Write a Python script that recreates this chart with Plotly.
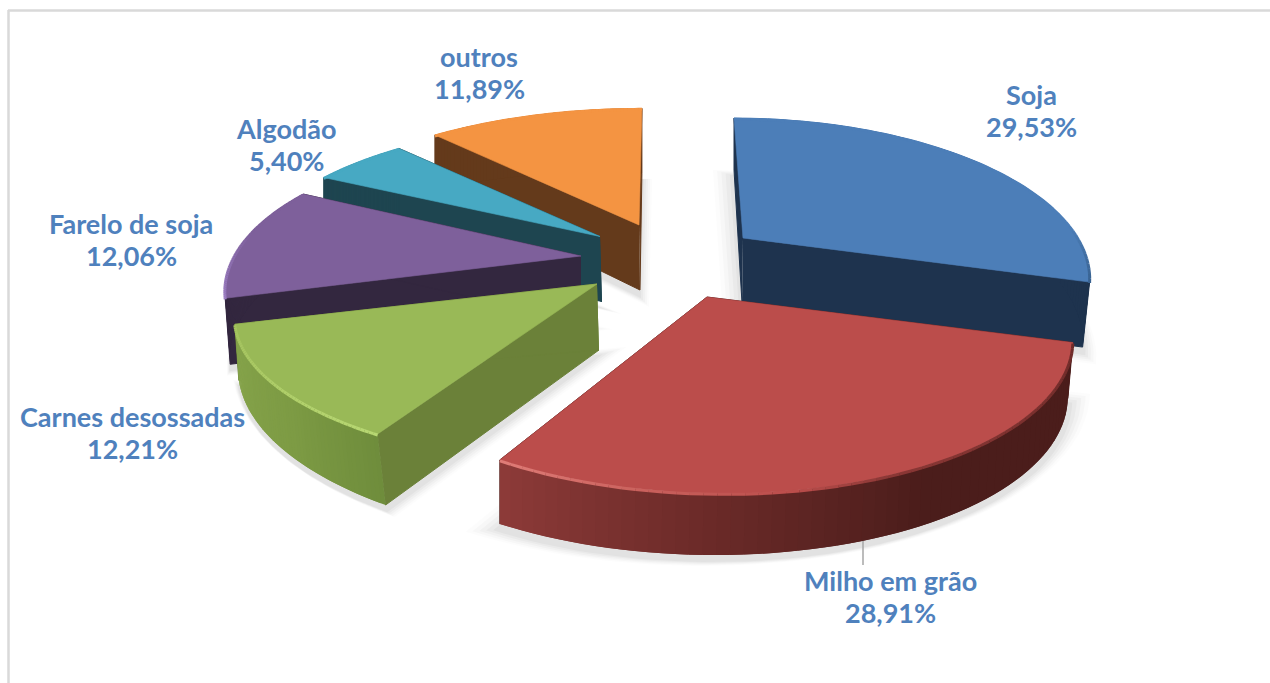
import numpy as np
import plotly.graph_objects as go

# ---- data ----
categories = ["Soja", "Milho em grão", "Carnes desossadas", "Farelo de soja", "Algodão", "outros"]
values = [29.53, 28.91, 12.21, 12.06, 5.40, 11.89]

# ---- colours ----
top_colors = ["#4c7eb8", "#bb4d4b", "#99b957", "#7e609b", "#47a9c3", "#f49442"]
wall_colors = ["#1e334e", "#4b1d1b", "#6b8139", "#33273f", "#1e4550", "#643a1b"]
# outer wall gradient, from the start angle to the end angle of each slice
curve_stops = [
    [(0, "#1e334e"), (1, "#1e334e")],
    [(0, "#4b1d1b"), (0.45, "#4b1d1b"), (0.72, "#6a2a28"), (1, "#8d3b38")],
    [(0, "#6f8d3c"), (0.4, "#7d9b44"), (1, "#86a44b")],
    [(0, "#33273f"), (1, "#33273f")],
    [(0, "#1e4550"), (1, "#1e4550")],
    [(0, "#643a1b"), (1, "#643a1b")],
]
# rim highlight along the outer edge
rim_stops = [
    [(0, "#4c7eb8"), (0.8, "#4c7eb8"), (1, "#38618f")],
    [(0, "#6e2b29"), (0.5, "#8a3735"), (0.62, "#bb4d4b"), (0.8, "#c9605c"), (1, "#e07d78")],
    [(0, "#b8d873"), (0.5, "#aecd68"), (1, "#a3c25e")],
    [(0, "#9a7cc0"), (0.3, "#8d6fb0"), (0.6, "#7e609b"), (1, "#7e609b")],
    [(0, "#47a9c3"), (1, "#47a9c3")],
    [(0, "#f49442"), (1, "#f49442")],
]

# ---- projection settings for each slice (pixels) ----
apex_x = [743, 707, 597, 581, 600, 639]
apex_y = [238, 297, 284, 256, 236.5, 225]
radius_x = [335, 353, 354, 347, 345, 354]
radius_y = [147, 152, 140, 147, 140, 143]
skew = [0.075, 0.09, 0.02, 0.0, 0.0, -0.025]
depth = [65, 60, 66, 66, 65, 65]
foot_shift = [-1, 0, 2, 0, 2, 1]
# wall height and sideways drift at the start and end of each outer arc
arc_depth_start = [52, 56, 71, 66, 65, 55]
arc_depth_end = [65, 64, 56, 66, 65, 65]
arc_drift_start = [0, -5, 8, 5, 0, 0]
arc_drift_end = [-7, 0, 4, 5, 0, 0]
perspective = 0.226
draw_order = [5, 4, 3, 0, 2, 1]
label_x = [1031, 890, 132, 131, 286, 479]
label_y = [94.5, 580.5, 416.5, 223.5, 128.5, 56.5]
line_gap = 32
label_size = 27
label_color = "#4f81bd"

# ---- slice angles come from the values ----
total = sum(values)
edges = np.concatenate([[0], np.cumsum(values)]) / total * 2 * np.pi


def project(i, theta):
    theta = np.asarray(theta, dtype=float)
    X, Y = np.sin(theta), np.cos(theta)
    w = 1 + perspective * Y
    dy = -radius_y[i] * Y / w
    dx = radius_x[i] * X / w + skew[i] * dy
    return apex_x[i] + dx, apex_y[i] + dy


def arc_wall(i, t):
    """Height and sideways drift of the wall along the arc, t from 0 to 1."""
    t = np.asarray(t, dtype=float)
    h = arc_depth_start[i] + (arc_depth_end[i] - arc_depth_start[i]) * t
    d = arc_drift_start[i] + (arc_drift_end[i] - arc_drift_start[i]) * t
    return h, d


def hex_rgb(c):
    return np.array([int(c[k:k + 2], 16) for k in (1, 3, 5)], dtype=float)


def ramp(stops, t):
    pos = [s[0] for s in stops]
    cols = np.array([hex_rgb(s[1]) for s in stops])
    rgb = [np.interp(t, pos, cols[:, k]) for k in range(3)]
    return "rgb(%d,%d,%d)" % tuple(int(round(v)) for v in rgb)


fig = go.Figure()


def poly(xs, ys, color, lw=0.6):
    fig.add_trace(go.Scatter(
        x=list(xs), y=list(ys), mode="lines", fill="toself", fillcolor=color,
        line=dict(color=color if lw else "rgba(0,0,0,0)", width=lw),
        hoverinfo="skip", showlegend=False))


def path(xs, ys, color, lw):
    fig.add_trace(go.Scatter(
        x=list(xs), y=list(ys), mode="lines", line=dict(color=color, width=lw),
        hoverinfo="skip", showlegend=False))


# soft shadows under the slices
for grow, alpha in [(1.10, 0.012), (1.08, 0.018), (1.06, 0.022), (1.04, 0.028), (1.02, 0.03)]:
    for i in draw_order:
        u = np.linspace(0, 1, 60)
        th = edges[i] + (edges[i + 1] - edges[i]) * u
        ax_, ay_ = project(i, th)
        h_, d_ = arc_wall(i, u)
        bx = np.concatenate([[apex_x[i]], ax_ + d_])
        by = np.concatenate([[apex_y[i] + depth[i]], ay_ + h_])
        cx, cy = bx.mean(), by.mean()
        poly(cx + (bx - cx) * grow, cy + (by - cy) * grow + 6,
             "rgba(0,0,0,%g)" % alpha, 0)

# slices, back to front
for i in draw_order:
    a0, a1 = edges[i], edges[i + 1]
    foot_x, foot_y = apex_x[i] + foot_shift[i], apex_y[i] + depth[i]
    for frac in (0.0, 1.0):
        ex, ey = project(i, a0 + (a1 - a0) * frac)
        eh, ed = arc_wall(i, frac)
        poly([apex_x[i], ex, ex + ed, foot_x],
             [apex_y[i], ey, ey + eh, foot_y], wall_colors[i], 1)
    # outer wall, as narrow overlapping strips
    n = 60
    u = np.linspace(0, 1, n + 1)
    t = a0 + (a1 - a0) * u
    px, py = project(i, t)
    ph, pd = arc_wall(i, u)
    for k in range(n):
        col = ramp(curve_stops[i], (k + 0.5) / n)
        j = min(k + 2, n)
        poly([px[k], px[j], px[j] + pd[j], px[k] + pd[k]],
             [py[k], py[j], py[j] + ph[j], py[k] + ph[k]], col, 0)
    # top face
    th = np.linspace(a0, a1, 100)
    qx, qy = project(i, th)
    poly(np.concatenate([[apex_x[i]], qx, [apex_x[i]]]),
         np.concatenate([[apex_y[i]], qy, [apex_y[i]]]), top_colors[i])
    # rim
    for k in range(n):
        col = ramp(rim_stops[i], (k + 0.5) / n)
        rx, ry = project(i, t[k:k + 2])
        path(rx, ry + 1, col, 3)

# leader line of the "Milho em grão" label
leader = dict(type="line", xref="x", yref="y", x0=863, x1=863, y0=541, y1=565,
              line=dict(color="#a6a6a6", width=1.5))
frame_top = dict(type="line", xref="x", yref="y", x0=8, x1=1270, y0=10.5, y1=10.5,
                 line=dict(color="#d9d9d9", width=2.5))
frame_left = dict(type="line", xref="x", yref="y", x0=8.5, x1=8.5, y0=10, y1=683,
                  line=dict(color="#d9d9d9", width=2.5))

annotations = []
for i in range(len(values)):
    pct = ("%.2f" % values[i]).replace(".", ",") + "%"
    for text, yy in ((categories[i], label_y[i]), (pct, label_y[i] + line_gap)):
        annotations.append(dict(
            x=label_x[i], y=yy, xref="x", yref="y", showarrow=False,
            text="<b>%s</b>" % text,
            font=dict(family="Lato", size=label_size, color=label_color),
            align="center", xanchor="center", yanchor="middle"))

fig.update_layout(
    width=1270, height=683, margin=dict(l=0, r=0, t=0, b=0),
    paper_bgcolor="white", plot_bgcolor="white", showlegend=False,
    xaxis=dict(range=[0, 1270], visible=False, fixedrange=True),
    yaxis=dict(range=[683, 0], visible=False, fixedrange=True),
    shapes=[leader, frame_top, frame_left],
    annotations=annotations,
)
fig.write_html("out.html", config={"displayModeBar": False},
               post_script="document.body.style.margin='0';document.body.style.overflow='hidden';")
